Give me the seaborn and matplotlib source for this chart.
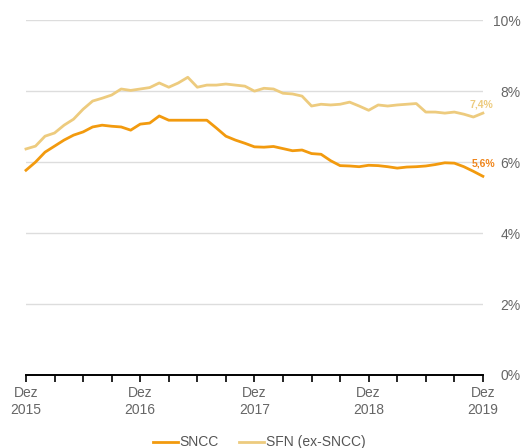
import numpy as np
import pandas as pd
import matplotlib
matplotlib.use("Agg")
import matplotlib.pyplot as plt
import seaborn as sns

# ---------- Data (monthly, Dez 2015 .. Dez 2019) ----------
sncc = [5.77, 6.00, 6.28, 6.45, 6.62, 6.76, 6.85, 6.99, 7.04, 7.01,
        6.99, 6.90, 7.07, 7.10, 7.30, 7.18, 7.18, 7.18, 7.18, 7.18,
        6.96, 6.73, 6.62, 6.53, 6.43, 6.42, 6.44, 6.38, 6.32, 6.34,
        6.24, 6.22, 6.04, 5.90, 5.89, 5.87, 5.91, 5.90, 5.87, 5.83,
        5.86, 5.87, 5.89, 5.93, 5.98, 5.97, 5.87, 5.74, 5.60]
sfn = [6.37, 6.45, 6.73, 6.82, 7.04, 7.21, 7.49, 7.72, 7.80, 7.89,
       8.06, 8.02, 8.06, 8.10, 8.23, 8.11, 8.23, 8.39, 8.11, 8.17,
       8.17, 8.20, 8.17, 8.14, 8.00, 8.08, 8.06, 7.94, 7.92, 7.86,
       7.58, 7.63, 7.61, 7.63, 7.69, 7.58, 7.46, 7.61, 7.58, 7.61,
       7.63, 7.65, 7.41, 7.41, 7.38, 7.41, 7.35, 7.27, 7.38]
series_names = ["SNCC", "SFN (ex-SNCC)"]
colors = ["#F29A0E", "#EDCB7E"]
end_labels = ["5,6%", "7,4%"]
xtick_labels = ["Dez\n2015", "Dez\n2016", "Dez\n2017", "Dez\n2018", "Dez\n2019"]
ytick_values = [0, 2, 4, 6, 8, 10]

months = np.arange(len(sncc))
df = pd.DataFrame({
    "month": np.concatenate([months, months]),
    "value": sncc + sfn,
    "serie": [series_names[0]] * len(sncc) + [series_names[1]] * len(sfn),
})

plt.rcParams["font.family"] = ["Liberation Sans", "DejaVu Sans"]

fig = plt.figure(figsize=(5.27, 4.48), dpi=100)
ax = fig.add_axes([0.0493, 0.163, 0.867, 0.792])

sns.lineplot(data=df, x="month", y="value", hue="serie",
             palette=dict(zip(series_names, colors)),
             linewidth=2.0, ax=ax, legend=True, clip_on=False)

ax.set_xlim(0, 48)
ax.set_ylim(0, 10)

# grid
for v in ytick_values[1:]:
    ax.axhline(v, color="#DDDDDD", linewidth=1, zorder=0)

# y axis on the right, labels right-aligned
ax.yaxis.tick_right()
ax.set_yticks(ytick_values)
ax.set_yticklabels([f"{v}%" for v in ytick_values], color="#666666", fontsize=10,
                   ha="right")
ax.tick_params(axis="y", length=0, pad=27)

# x axis
ax.set_xticks(np.arange(0, 49, 3), minor=True)
ax.set_xticks(np.arange(0, 49, 12))
ax.set_xticklabels(xtick_labels, color="#666666", fontsize=10, linespacing=1.3)
ax.tick_params(axis="x", which="both", length=5, width=1.2, color="black", pad=3)

for side in ["top", "right", "left"]:
    ax.spines[side].set_visible(False)
ax.spines["bottom"].set_color("black")
ax.spines["bottom"].set_linewidth(1.4)
ax.set_xlabel("")
ax.set_ylabel("")

# end labels
ax.text(49.3, 5.97, end_labels[0], color="#F0861C", fontsize=7.5,
        fontweight="bold", ha="right", va="center", clip_on=False)
ax.text(47.85, 7.63, end_labels[1], color=colors[1], fontsize=7.5,
        fontweight="bold", ha="center", va="center", clip_on=False)

leg = ax.legend(loc="upper center", bbox_to_anchor=(0.51, -0.135), ncol=2,
                frameon=False, fontsize=10, handlelength=1.8, handletextpad=0.1,
                columnspacing=1.5)
for t in leg.get_texts():
    t.set_color("#555555")

fig.savefig("out.png", dpi=100)
